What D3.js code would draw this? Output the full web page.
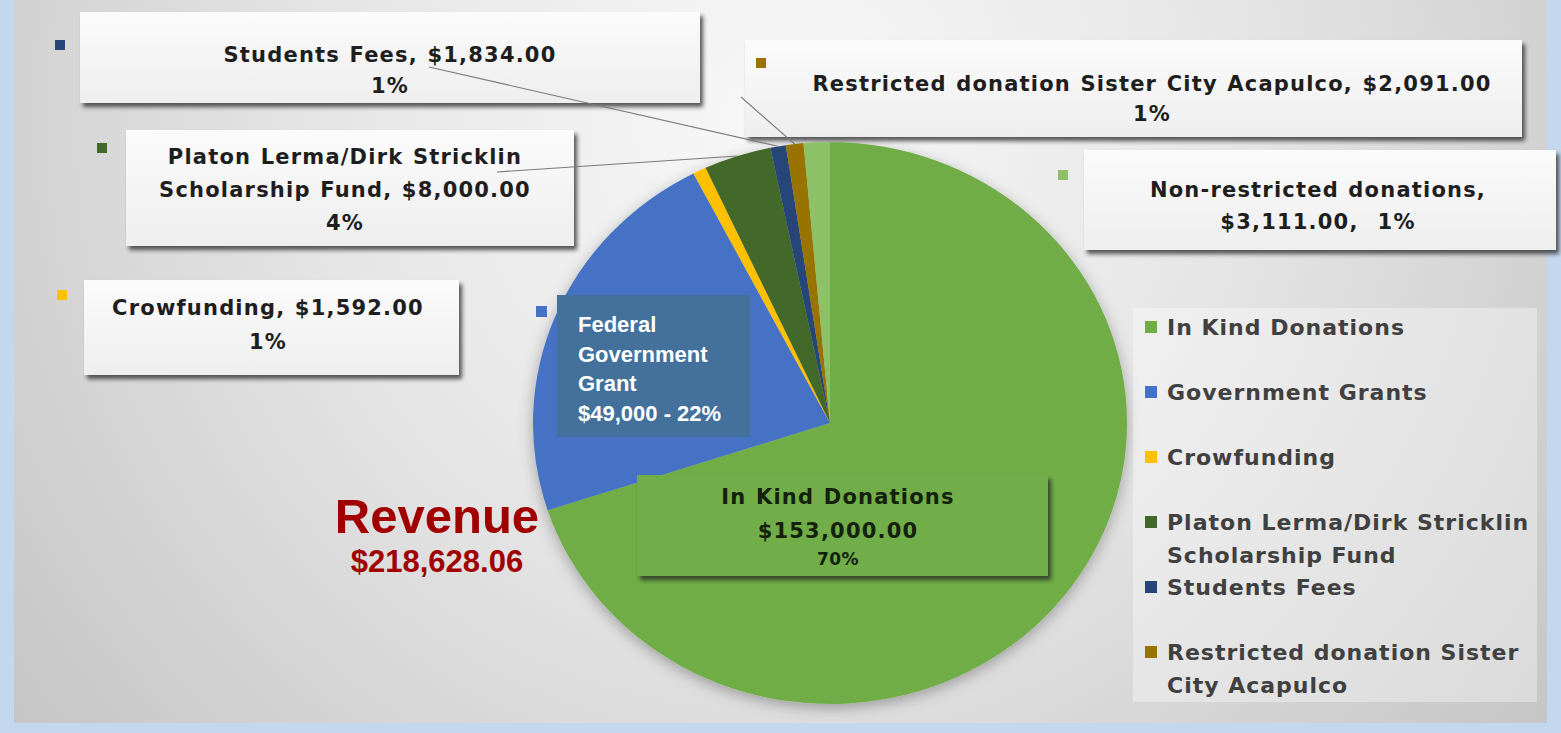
<!DOCTYPE html>
<html>
<head>
<meta charset="utf-8">
<script src="https://cdn.jsdelivr.net/npm/d3@7"></script>
<style>
  html, body { margin: 0; padding: 0; background: #c3d8ee; }
  svg { display: block; }
  .lbl { font-family: "DejaVu Sans", sans-serif; font-weight: bold; font-size: 21px; fill: #1e1e1e; letter-spacing: 1.2px; word-spacing: 1px; white-space: pre; }
  .leg { font-family: "DejaVu Sans", sans-serif; font-weight: bold; font-size: 22px; fill: #404040; letter-spacing: 1px; }
  .arial { font-family: "Liberation Sans", Arial, sans-serif; font-weight: bold; }
</style>
</head>
<body>
<svg id="chart" width="1561" height="733"></svg>
<script>
// data
const categories = ["In Kind Donations", "Government Grants", "Crowfunding",
  "Platon Lerma/Dirk Stricklin Scholarship Fund", "Students Fees",
  "Restricted donation Sister City Acapulco", "Non-restricted donations"];
const values = [153000, 49000, 1592, 8000, 1834, 2091, 3111];
const colors = ["#70ad47", "#4472c4", "#ffc000", "#43682b", "#264478", "#997300", "#8cc168"];
const legendLines = [["In Kind Donations"], ["Government Grants"], ["Crowfunding"],
  ["Platon Lerma/Dirk Stricklin", "Scholarship Fund"], ["Students Fees"],
  ["Restricted donation Sister", "City Acapulco"]];
const totalLabel = ["Revenue", "$218,628.06"];

const total = d3.sum(values);
const money = d3.format("$,.2f");
const pct = v => d3.format(".0%")(v / total);

// text of each data label, built from the data
const labelText = i => {
  const v = values[i];
  switch (i) {
    case 0: return [categories[0], money(v), pct(v)];
    case 1: return ["Federal", "Government", "Grant", `${d3.format("$,")(v)} - ${pct(v)}`];
    case 3: return ["Platon Lerma/Dirk Stricklin", `Scholarship Fund, ${money(v)}`, pct(v)];
    case 6: return [categories[6] + ",", `${money(v)},  ${pct(v)}`];
    default: return [`${categories[i]}, ${money(v)}`, pct(v)];
  }
};

// layout of the callout boxes (x, y, w, h), text centre, baselines, marker, leader start
const calloutLayout = [
  { i: 4, box: [80, 12, 620, 91], tx: 390, ty: [62, 93], mk: [55, 40], from: [429, 67] },
  { i: 3, box: [126, 130, 448, 116], tx: 345, ty: [164, 197, 230], mk: [97, 143], from: [497, 172] },
  { i: 5, box: [745, 40, 777, 97], tx: 1152, ty: [91, 121], mk: [756, 58], from: [741, 97] },
  { i: 6, box: [1084, 150, 472, 100], tx: 1318, ty: [197, 229], mk: [1058, 170] },
  { i: 2, box: [84, 280, 375, 95], tx: 268, ty: [315, 349], mk: [57, 290] }
];

const W = 1561, H = 733;
const cx = 830, cy = 423, r = 281, sx = 1.057;

const svg = d3.select("#chart");
const defs = svg.append("defs");

const bg = defs.append("radialGradient").attr("id", "bg")
  .attr("gradientUnits", "userSpaceOnUse").attr("cx", 780).attr("cy", 120).attr("r", 1000);
bg.append("stop").attr("offset", 0).attr("stop-color", "#f8f8f8");
bg.append("stop").attr("offset", 0.45).attr("stop-color", "#e6e6e6");
bg.append("stop").attr("offset", 1).attr("stop-color", "#c4c4c4");

const boxGrad = defs.append("linearGradient").attr("id", "boxg").attr("x1", 0).attr("y1", 0).attr("x2", 0).attr("y2", 1);
boxGrad.append("stop").attr("offset", 0).attr("stop-color", "#fbfbfb");
boxGrad.append("stop").attr("offset", 1).attr("stop-color", "#eeeeee");

const shadow = defs.append("filter").attr("id", "shadow").attr("x", "-10%").attr("y", "-10%").attr("width", "130%").attr("height", "140%");
shadow.append("feDropShadow").attr("dx", 3).attr("dy", 4).attr("stdDeviation", 2)
  .attr("flood-color", "#222").attr("flood-opacity", 0.75);

const pieShadow = defs.append("filter").attr("id", "pieshadow").attr("x", "-10%").attr("y", "-10%").attr("width", "120%").attr("height", "125%");
pieShadow.append("feDropShadow").attr("dx", 0).attr("dy", 4).attr("stdDeviation", 7)
  .attr("flood-color", "#000").attr("flood-opacity", 0.3);

// background panel
svg.append("rect").attr("width", W).attr("height", H).attr("fill", "#c3d8ee");
svg.append("rect").attr("x", 14).attr("y", 0).attr("width", 1533).attr("height", 723).attr("fill", "url(#bg)");

// callout boxes go under the pie
const callouts = svg.append("g");
calloutLayout.forEach(c => {
  const [bx, by, bw, bh] = c.box;
  callouts.append("rect").attr("x", bx).attr("y", by).attr("width", bw).attr("height", bh)
    .attr("fill", "url(#boxg)").attr("filter", "url(#shadow)");
});

// pie
const pie = d3.pie().sort(null).value(d => d)(values);
const arc = d3.arc().innerRadius(0).outerRadius(r);

const pg = svg.append("g")
  .attr("transform", `translate(${cx},${cy}) scale(${sx},1)`)
  .attr("filter", "url(#pieshadow)");
pg.selectAll("path").data(pie).enter().append("path")
  .attr("d", arc)
  .attr("fill", (d, i) => colors[i]);

// leader lines from the callouts to the slice edges
const edge = d => {
  const a = (d.startAngle + d.endAngle) / 2;
  return [cx + sx * r * Math.sin(a), cy - r * Math.cos(a)];
};
calloutLayout.filter(c => c.from).forEach(c => {
  const [ex, ey] = edge(pie[c.i]);
  svg.append("line")
    .attr("x1", c.from[0]).attr("y1", c.from[1]).attr("x2", ex).attr("y2", ey)
    .attr("stroke", "#7a7a7a").attr("stroke-width", 1.1);
});

// callout text and markers
calloutLayout.forEach(c => {
  svg.append("rect").attr("x", c.mk[0]).attr("y", c.mk[1]).attr("width", 10).attr("height", 10)
    .attr("fill", colors[c.i]);
  labelText(c.i).forEach((t, k) => {
    svg.append("text").attr("class", "lbl")
      .attr("x", c.tx).attr("y", c.ty[k]).attr("text-anchor", "middle").text(t);
  });
});

// in kind label sitting on the big slice
svg.append("rect").attr("x", 637).attr("y", 475).attr("width", 411).attr("height", 101)
  .attr("fill", "#71ad48").attr("filter", "url(#shadow)");
labelText(0).forEach((t, k) => {
  svg.append("text").attr("class", "lbl")
    .attr("x", 838).attr("y", [504, 538, 565][k]).attr("text-anchor", "middle")
    .style("font-size", k === 2 ? "17px" : null)
    .style("letter-spacing", k === 2 ? "0.5px" : null)
    .style("fill", "#14210c")
    .text(t);
});

// federal grant box
svg.append("rect").attr("x", 536).attr("y", 306).attr("width", 11).attr("height", 11).attr("fill", colors[1]);
svg.append("rect").attr("x", 557).attr("y", 295).attr("width", 193).attr("height", 142).attr("fill", "#43719c");
labelText(1).forEach((t, k) => {
  svg.append("text").attr("class", "arial")
    .attr("x", 578).attr("y", 332 + k * 29.7)
    .attr("fill", "#fff").style("font-size", "22px").text(t);
});

// total revenue
svg.append("text").attr("class", "arial").attr("x", 437).attr("y", 533)
  .attr("text-anchor", "middle").attr("fill", "#a00000").style("font-size", "49px").text(totalLabel[0]);
svg.append("text").attr("class", "arial").attr("x", 437).attr("y", 572)
  .attr("text-anchor", "middle").attr("fill", "#a00000").style("font-size", "31px").text(totalLabel[1]);

// legend
svg.append("rect").attr("x", 1133).attr("y", 308).attr("width", 404).attr("height", 394)
  .attr("fill", "#fff").attr("fill-opacity", 0.35);
const legend = svg.append("g");
legendLines.forEach((lines, i) => {
  const y0 = 335 + i * 65;
  legend.append("rect").attr("x", 1145).attr("y", y0 - 14).attr("width", 12).attr("height", 12)
    .attr("fill", colors[i]);
  lines.forEach((t, k) => {
    legend.append("text").attr("class", "leg").attr("x", 1167).attr("y", y0 + k * 33).text(t);
  });
});
</script>
</body>
</html>
